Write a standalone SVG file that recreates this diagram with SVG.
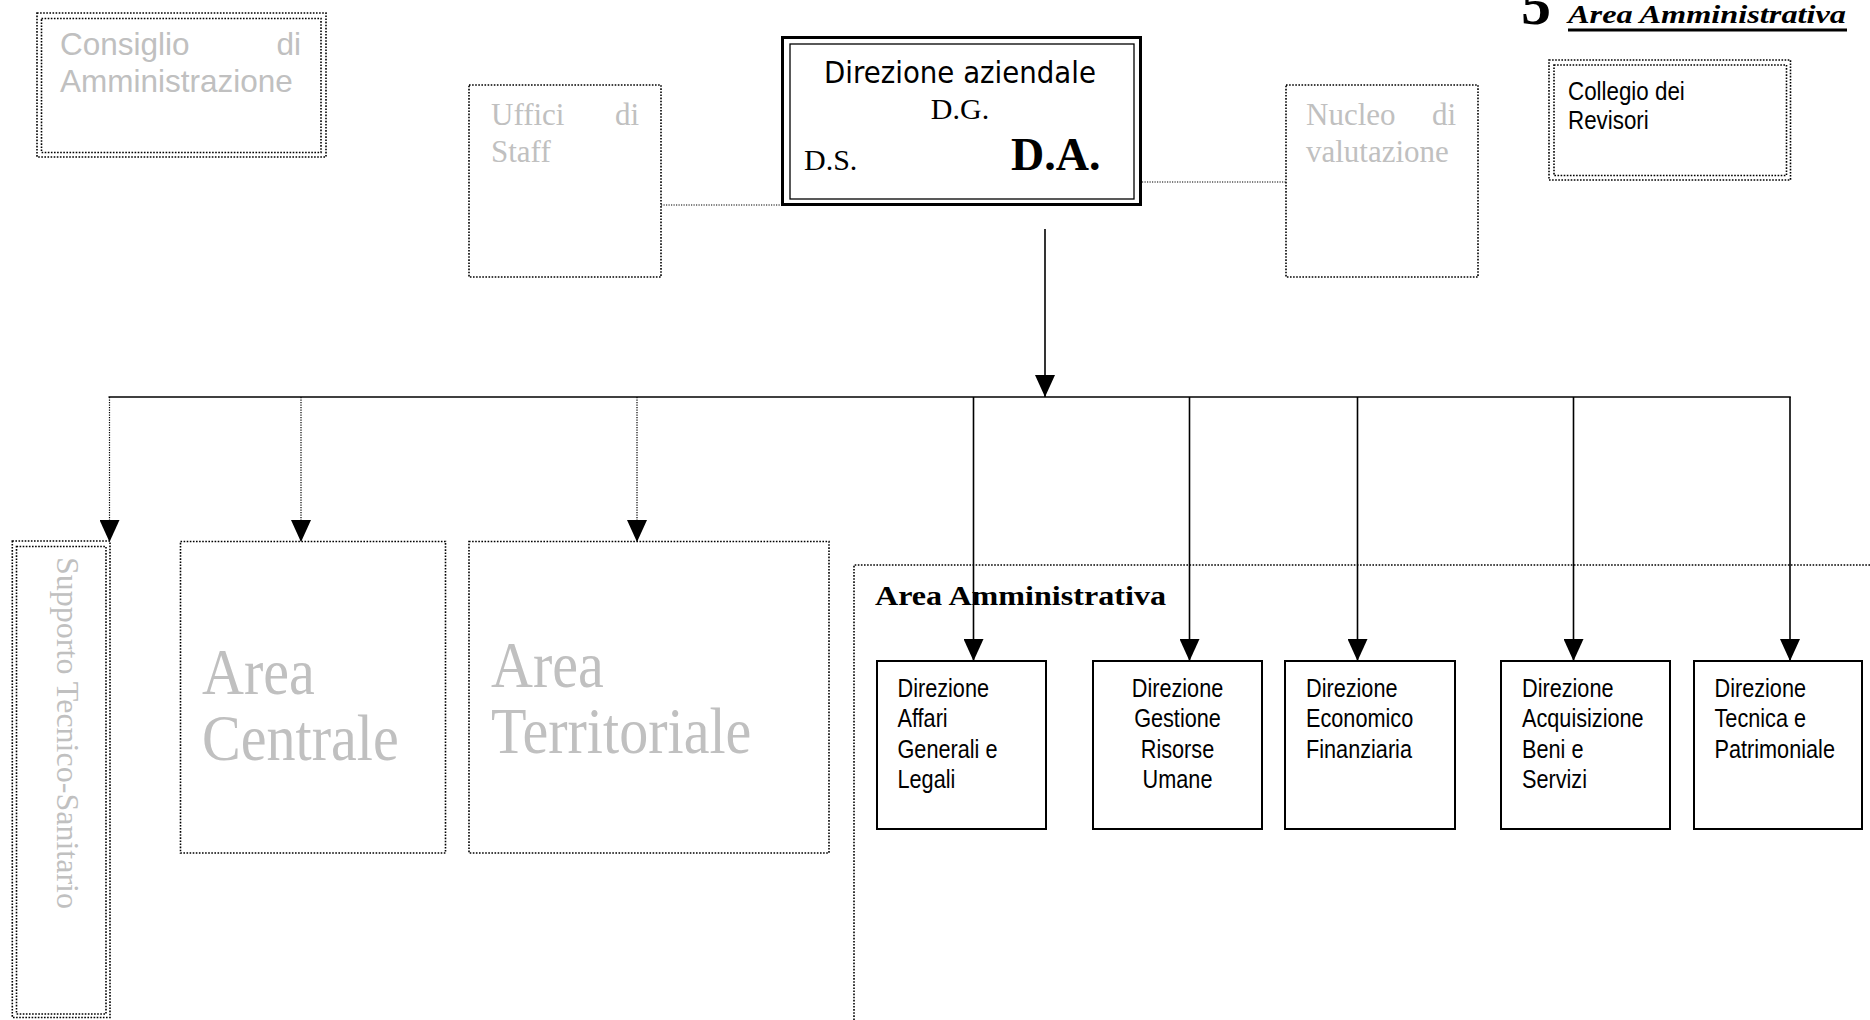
<svg xmlns="http://www.w3.org/2000/svg" width="1870" height="1020" viewBox="0 0 1870 1020">
<defs>
<style>
.dot{fill:none;stroke:#000;stroke-width:1.6;stroke-dasharray:1.6 1.5}
.dotc{fill:none;stroke:#000;stroke-width:1.2;stroke-dasharray:1.2 1.3}
.sol{fill:none;stroke:#000;stroke-width:1.6}
.box{fill:#fff;stroke:#000;stroke-width:2}
.gs{font-family:"Liberation Sans",Arial,sans-serif;fill:#c0c0c0}
.gt{font-family:"Liberation Serif","Times New Roman",serif;fill:#c0c0c0}
.bs{font-family:"Liberation Sans",Arial,sans-serif;fill:#000;font-size:25.5px}
.bt{font-family:"Liberation Serif","Times New Roman",serif;fill:#000}
</style>
<marker id="ah" markerUnits="userSpaceOnUse" markerWidth="22" markerHeight="20" viewBox="0 0 22 20" refX="22" refY="10" orient="auto">
<path d="M0,0 L22,10 L0,20 Z" fill="#000"/>
</marker>
</defs>
<rect width="1870" height="1020" fill="#fff"/>

<g id="title">
<text class="bt" x="1521" y="24" font-size="60" font-weight="bold">5</text>
<text class="bt" x="1568" y="23" font-size="26" font-weight="bold" font-style="italic" textLength="278" lengthAdjust="spacingAndGlyphs">Area Amministrativa</text>
<line x1="1568" y1="30" x2="1847" y2="30" stroke="#000" stroke-width="3"/>
</g>

<g id="consiglio">
<rect class="dot" x="37" y="13" width="289" height="144"/>
<rect class="dot" x="41.5" y="18.5" width="279.5" height="134"/>
<text class="gs" x="60" y="55" font-size="31.5">Consiglio</text>
<text class="gs" x="301" y="55" font-size="31.5" text-anchor="end">di</text>
<text class="gs" x="60" y="92" font-size="31.5">Amministrazione</text>
</g>

<g id="uffici">
<rect class="dot" x="469" y="85" width="192" height="192"/>
<text class="gt" x="491" y="125" font-size="31">Uffici</text>
<text class="gt" x="639" y="125" font-size="31" text-anchor="end">di</text>
<text class="gt" x="491" y="162" font-size="31">Staff</text>
</g>

<g id="direzione-aziendale">
<rect x="782.5" y="37.5" width="358" height="167" fill="#fff" stroke="#000" stroke-width="3"/>
<rect x="790" y="44" width="344" height="155" fill="none" stroke="#000" stroke-width="1.3"/>
<text x="960" y="83" font-family="'DejaVu Sans',Verdana,sans-serif" font-size="31" text-anchor="middle" textLength="272" lengthAdjust="spacingAndGlyphs">Direzione aziendale</text>
<text class="bt" x="960" y="119" font-size="30" text-anchor="middle">D.G.</text>
<text class="bt" x="804" y="170" font-size="30">D.S.</text>
<text class="bt" x="1011" y="170" font-size="46" font-weight="bold">D.A.</text>
</g>

<g id="nucleo">
<rect class="dot" x="1286" y="85" width="192" height="192"/>
<text class="gt" x="1306" y="125" font-size="31">Nucleo</text>
<text class="gt" x="1456" y="125" font-size="31" text-anchor="end">di</text>
<text class="gt" x="1306" y="162" font-size="31">valutazione</text>
</g>

<g id="collegio">
<rect class="dot" x="1549" y="60" width="241.5" height="120"/>
<rect class="dot" x="1554" y="65" width="232.5" height="110.5"/>
<g class="bs" transform="translate(1568,0) scale(0.86,1)">
<text x="0" y="100" font-size="26">Collegio dei</text>
<text x="0" y="129" font-size="26">Revisori</text>
</g>
</g>

<g id="supporto">
<rect class="dot" x="12.3" y="541" width="97.7" height="476.5"/>
<rect class="dot" x="16.5" y="546.5" width="89.5" height="467.5"/>
<text class="gt" font-size="32" transform="translate(57,557) rotate(90)" x="0" y="0" textLength="352" lengthAdjust="spacingAndGlyphs">Supporto Tecnico-Sanitario</text>
</g>

<g id="area-centrale">
<rect class="dot" x="180.5" y="541.5" width="265" height="311.5"/>
<g class="gt" font-size="66" transform="translate(202,0) scale(0.88,1)">
<text x="0" y="694">Area</text>
<text x="0" y="760">Centrale</text>
</g>
</g>

<g id="area-territoriale">
<rect class="dot" x="469" y="541.5" width="360" height="311.5"/>
<g class="gt" font-size="66" transform="translate(491,0) scale(0.88,1)">
<text x="0" y="687">Area</text>
<text x="0" y="753">Territoriale</text>
</g>
</g>

<g id="area-amministrativa">
<path class="dot" d="M1870,565 H854 V1020"/>
<text class="bt" x="875" y="605" font-size="28" font-weight="bold" textLength="291" lengthAdjust="spacingAndGlyphs">Area Amministrativa</text>
</g>

<g id="connectors">
<line class="dotc" x1="661" y1="205" x2="781" y2="205"/>
<line class="dotc" x1="1142" y1="182" x2="1286" y2="182"/>
<line class="sol" x1="1045" y1="229" x2="1045" y2="397" marker-end="url(#ah)"/>
<line class="sol" x1="108.5" y1="397" x2="1790.8" y2="397"/>
<line class="dotc" x1="109.5" y1="397" x2="109.5" y2="542" marker-end="url(#ah)"/>
<line class="dotc" x1="301" y1="397" x2="301" y2="542" marker-end="url(#ah)"/>
<line class="dotc" x1="637" y1="397" x2="637" y2="542" marker-end="url(#ah)"/>
<line class="sol" x1="973.5" y1="397" x2="973.5" y2="661" marker-end="url(#ah)"/>
<line class="sol" x1="1189.5" y1="397" x2="1189.5" y2="661" marker-end="url(#ah)"/>
<line class="sol" x1="1357.5" y1="397" x2="1357.5" y2="661" marker-end="url(#ah)"/>
<line class="sol" x1="1573.5" y1="397" x2="1573.5" y2="661" marker-end="url(#ah)"/>
<line class="sol" x1="1790" y1="397" x2="1790" y2="661" marker-end="url(#ah)"/>
</g>

<g id="dir-affari">
<rect class="box" x="877" y="661" width="169" height="168"/>
<g class="bs" transform="translate(897.5,0) scale(0.85,1)">
<text x="0" y="697">Direzione</text>
<text x="0" y="727.5">Affari</text>
<text x="0" y="758">Generali e</text>
<text x="0" y="788.5">Legali</text>
</g>
</g>

<g id="dir-risorse">
<rect class="box" x="1093" y="661" width="169" height="168"/>
<g class="bs" text-anchor="middle" transform="translate(1177.5,0) scale(0.85,1)">
<text x="0" y="697">Direzione</text>
<text x="0" y="727.5">Gestione</text>
<text x="0" y="758">Risorse</text>
<text x="0" y="788.5">Umane</text>
</g>
</g>

<g id="dir-economico">
<rect class="box" x="1285" y="661" width="170" height="168"/>
<g class="bs" transform="translate(1306,0) scale(0.85,1)">
<text x="0" y="697">Direzione</text>
<text x="0" y="727.5">Economico</text>
<text x="0" y="758">Finanziaria</text>
</g>
</g>

<g id="dir-acquisizione">
<rect class="box" x="1501" y="661" width="169" height="168"/>
<g class="bs" transform="translate(1522,0) scale(0.85,1)">
<text x="0" y="697">Direzione</text>
<text x="0" y="727.5">Acquisizione</text>
<text x="0" y="758">Beni e</text>
<text x="0" y="788.5">Servizi</text>
</g>
</g>

<g id="dir-tecnica">
<rect class="box" x="1694" y="661" width="168" height="168"/>
<g class="bs" transform="translate(1714.5,0) scale(0.85,1)">
<text x="0" y="697">Direzione</text>
<text x="0" y="727.5">Tecnica e</text>
<text x="0" y="758">Patrimoniale</text>
</g>
</g>
</svg>
